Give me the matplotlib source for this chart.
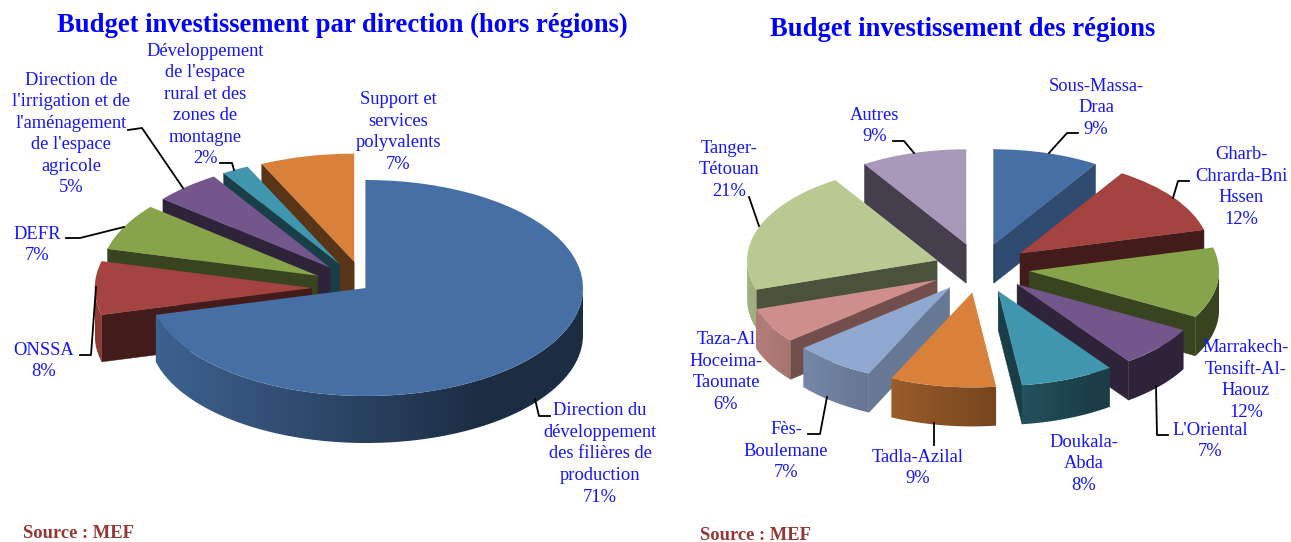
import numpy as np
from matplotlib import pyplot as plt
from matplotlib.colors import to_rgb
from matplotlib.patches import Polygon

plt.rcParams['font.family'] = ['Liberation Serif', 'DejaVu Serif']

WIDTH, HEIGHT = 1291, 542
BLUE = '#1414ff'

# Left chart
direction_labels = ['Direction du\ndéveloppement\ndes filières de\nproduction\n71%',
                    'ONSSA\n8%',
                    'DEFR\n7%',
                    "Direction de\nl'irrigation et de\nl'aménagement\nde l'espace\nagricole\n5%",
                    "Développement\nde l'espace\nrural et des\nzones de\nmontagne\n2%",
                    'Support et\nservices\npolyvalents\n7%']
direction_values = [71, 8, 7, 5, 2, 7]
direction_colors = ['#4670a5', '#a4433f', '#88a44b', '#72568c', '#4096ae', '#d9813a']
direction_explode = [0, 0.25, 0.25, 0.25, 0.25, 0.25]

# Right chart
region_labels = ['Sous-Massa-\nDraa\n9%',
                 'Gharb-\nChrarda-Bni\nHssen\n12%',
                 'Marrakech-\nTensift-Al-\nHaouz\n12%',
                 "L'Oriental\n7%",
                 'Doukala-\nAbda\n8%',
                 'Tadla-Azilal\n9%',
                 'Fès-\nBoulemane\n7%',
                 'Taza-Al\nHoceima-\nTaounate\n6%',
                 'Tanger-\nTétouan\n21%',
                 'Autres\n9%']
region_values = [9, 12, 12, 7, 8, 9, 7, 6, 21, 9]
region_colors = ['#4670a5', '#a4433f', '#88a44b', '#72568c', '#4096ae', '#d9813a',
                 '#90a7cf', '#ce8f8c', '#b8c992', '#a899bb']
region_explode = [0.26, 0.26, 0.26, 0.26, 0.26, 0.26, 0.26, 0.26, 0.24, 0.26]

# Label centres, in pixels
direction_label_pos = [(600, 454), (44, 361), (37, 245), (71, 134), (205, 105), (398, 132)]
region_label_pos = [(1096, 108), (1241, 187), (1246, 380), (1210, 441), (1084, 464),
                    (918, 468), (786, 451), (726, 372), (729, 170), (875, 126)]

# Leader lines, in pixels
leaders = [[(535, 399), (539, 416), (550, 416)],
           [(96, 287), (91, 355), (80, 355)],
           [(66, 238), (80, 238), (124, 227)],
           [(128, 130), (142, 128), (183, 188)],
           [(220, 163), (232, 163), (234, 170)],
           [(1078, 133), (1067, 133), (1049, 153)],
           [(1189, 181), (1178, 181), (1173, 198)],
           [(1156, 386), (1157, 435), (1168, 435)],
           [(934, 423), (934, 445)],
           [(827, 397), (820, 434), (808, 434)],
           [(749, 197), (759, 226)],
           [(893, 141), (904, 141), (914, 153)]]


def shade(color, factor):
    '''Darkens a colour by a factor between 0 and 1.'''
    return tuple(c * factor for c in to_rgb(color))


def draw_pie(fig, center, rx, ry, depth, values, colors, explode):
    '''
    Draws a pie whose top faces come from ax.pie on a squashed axes,
    then adds the extruded sides under each wedge, back to front.
    '''
    span = 1.8
    ax = fig.add_axes([(center[0] - span * rx) / WIDTH,
                       1 - (center[1] + span * ry) / HEIGHT,
                       2 * span * rx / WIDTH,
                       2 * span * ry / HEIGHT])
    wedges, _ = ax.pie(values, colors=colors, explode=explode, startangle=90,
                       counterclock=False, radius=1,
                       wedgeprops={'linewidth': 0})

    # Back slices first: the lower the middle of a wedge, the later it is drawn
    def height(w):
        mid = np.radians((w.theta1 + w.theta2) / 2)
        return w.center[1] + 0.5 * np.sin(mid)
    order = sorted(wedges, key=height, reverse=True)

    z = 2
    for w in order:
        cx, cy = w.center
        color = w.get_facecolor()

        # Flat cut faces, only when turned to the viewer
        for theta, normal in ((w.theta1, w.theta1 - 90), (w.theta2, w.theta2 + 90)):
            n = (normal + 180) % 360 - 180
            if np.sin(np.radians(n)) >= 0:
                continue
            f = np.interp(n, [-72, -25, 0], [0.41, 0.72, 0.8]) if n > -72 else 0.41
            ex = cx + np.cos(np.radians(theta))
            ey = cy + np.sin(np.radians(theta))
            ax.add_patch(Polygon([(cx, cy), (ex, ey), (ex, ey - depth), (cx, cy - depth)],
                                 closed=True, facecolor=shade(color, f), edgecolor=shade(color, f),
                                 linewidth=0.3, zorder=z))
            z += 1

        # Round outer side: a horizontal gradient clipped to the visible part of the arc
        angles = np.radians(np.linspace(w.theta1, w.theta2, 400))
        angles = angles[np.sin(angles) < 0]
        if len(angles) > 1:
            top = np.column_stack([cx + np.cos(angles), cy + np.sin(angles)])
            low = top[::-1] - [0, depth]
            side = Polygon(np.vstack([top, low]), closed=True, facecolor='none',
                           edgecolor='none', transform=ax.transData)
            steps = np.linspace(-1, 1, 400)
            factors = np.interp(steps, [-1, 0, 0.5, 1], [0.88, 0.58, 0.41, 0.41])
            strip = np.array([[shade(color, f) for f in factors]])
            image = ax.imshow(strip, extent=(cx - 1, cx + 1, cy - 2, cy + 1), aspect='auto',
                              interpolation='bilinear', zorder=z)
            image.set_clip_path(side)
            z += 1

        w.set_zorder(z)
        z += 1

    ax.set_aspect('auto')
    ax.set_xlim(-span, span)
    ax.set_ylim(-span, span)
    ax.axis('off')
    return ax


fig = plt.figure(figsize=(WIDTH / 100, HEIGHT / 100), dpi=100)

draw_pie(fig, (366, 288), 217, 108, 47 / 108, direction_values, direction_colors, direction_explode)
draw_pie(fig, (980, 268), 190, 95, 39 / 95, region_values, region_colors, region_explode)

# Everything else goes on a full figure axes counted in pixels
over = fig.add_axes([0, 0, 1, 1], zorder=10)
over.set_xlim(0, WIDTH)
over.set_ylim(HEIGHT, 0)
over.axis('off')

for line in leaders:
    over.plot([p[0] for p in line], [p[1] for p in line], color='black', linewidth=1.3,
              solid_joinstyle='round')

for text, pos in zip(direction_labels + region_labels, direction_label_pos + region_label_pos):
    over.text(pos[0], pos[1], text, ha='center', va='center', multialignment='center',
              fontsize=13.3, color=BLUE, linespacing=1.35)

over.text(342, 25, 'Budget investissement par direction (hors régions)', ha='center', va='center',
          fontsize=19.2, fontweight='bold', color='#0000ff')
over.text(963, 30, 'Budget investissement des régions', ha='center', va='center',
          fontsize=19.2, fontweight='bold', color='#0000ff')

over.text(23, 534, 'Source : MEF', ha='left', va='center', fontsize=13.3, fontweight='bold', color='#953735')
over.text(700, 536, 'Source : MEF', ha='left', va='center', fontsize=13.3, fontweight='bold', color='#953735')

plt.savefig('out.png', dpi=100)
plt.close()
